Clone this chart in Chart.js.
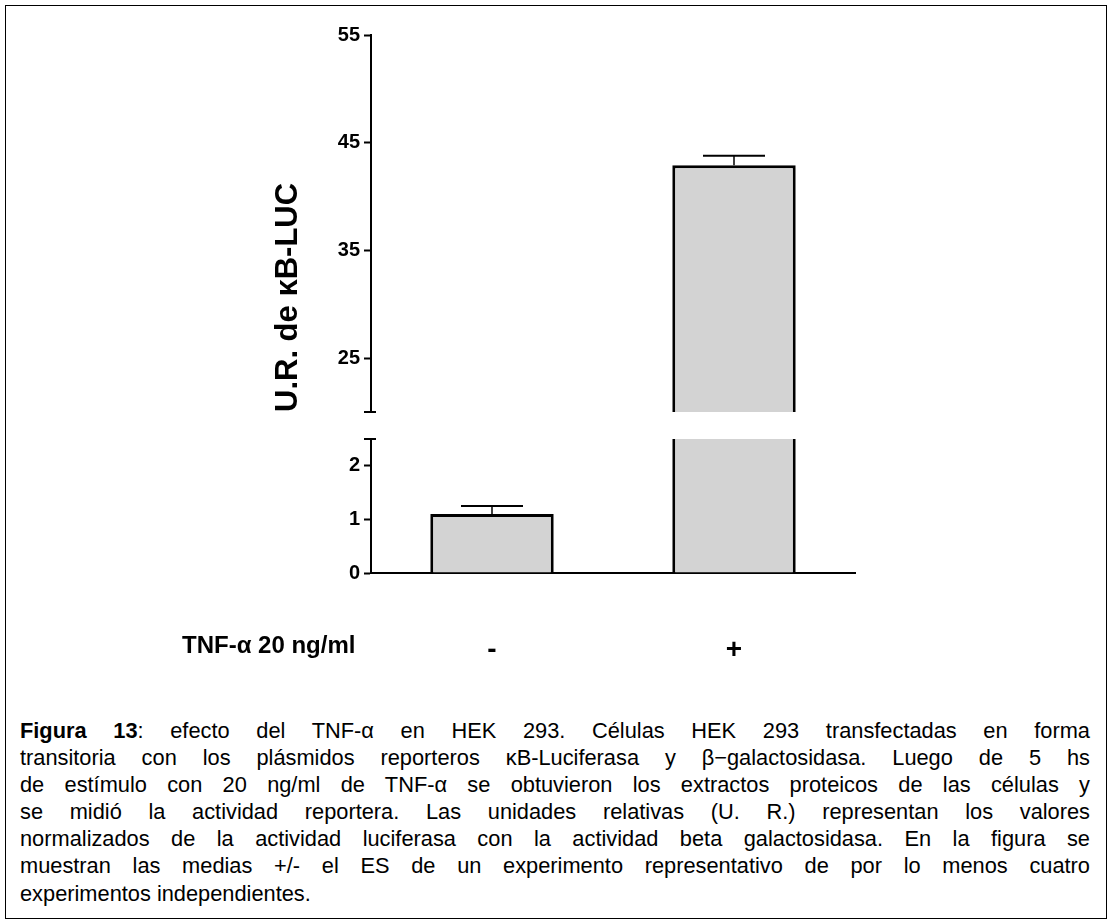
<!DOCTYPE html>
<html>
<head>
<meta charset="utf-8">
<script src="https://cdn.jsdelivr.net/npm/chart.js@4/dist/chart.umd.min.js"></script>
<style>
  body { margin: 0; background: #fff; font-family: "Liberation Sans", Arial, sans-serif; }
  #frame { position: absolute; left: 5px; top: 5px; width: 1100px; height: 912px; border: 1px solid #000; }
  #chartBox { position: absolute; left: 0; top: 0; width: 1100px; height: 680px; }
  #tnf { position: absolute; left: 176px; top: 625px; font-size: 24px; line-height: 28px; font-weight: bold; }
  #caption { position: absolute; left: 14px; top: 711px; width: 1070px; font-size: 21.8px; line-height: 27.1px; color: #000; }
  #caption div { text-align: justify; text-align-last: justify; white-space: nowrap; }
  #caption div.last { text-align-last: left; }
</style>
</head>
<body>
<div id="frame">
  <div id="chartBox"><canvas id="chart"></canvas></div>
  <div id="tnf">TNF-α 20 ng/ml</div>
  <div id="caption">
    <div><b>Figura 13</b>: efecto del TNF-α en HEK 293. Células HEK 293 transfectadas en forma</div>
    <div>transitoria con los plásmidos reporteros κB-Luciferasa y β−galactosidasa. Luego de 5 hs</div>
    <div>de estímulo con 20 ng/ml de TNF-α se obtuvieron los extractos proteicos de las células y</div>
    <div>se midió la actividad reportera. Las unidades relativas (U. R.) representan los valores</div>
    <div>normalizados de la actividad luciferasa con la actividad beta galactosidasa. En la figura se</div>
    <div>muestran las medias +/- el ES de un experimento representativo de por lo menos cuatro</div>
    <div class="last">experimentos independientes.</div>
  </div>
</div>
<script>
// data
const groups = ['-', '+'];
const means = [1.1, 42.9];
const sems = [0.15, 0.9];

// broken y axis: two segments
const lowRange = [0, 2.5];
const highRange = [20, 55];
const lowTicks = [0, 1, 2];
const highTicks = [25, 35, 45, 55];

const lowData = means.map(v => Math.min(v, lowRange[1]));
const highData = means.map(v => v > highRange[0] ? [highRange[0], v] : null);

const FONT = '"Liberation Sans", Arial, sans-serif';
const AXIS_W = 120;

const yAxisCommon = {
    type: 'linear',
    stack: 'y',
    afterFit: s => { s.width = AXIS_W; },
    grid: { display: true, drawOnChartArea: false, drawTicks: true, tickLength: 7, tickWidth: 2, tickColor: '#000' },
    border: { display: true, color: '#000', width: 2 },
    ticks: { color: '#000', padding: 4, font: { family: FONT, size: 20, weight: 'bold' } }
};

// error bars drawn from the scales
const errorBars = {
    id: 'errorBars',
    afterDatasetsDraw(chart) {
        const ctx = chart.ctx;
        const xs = chart.scales.x;
        ctx.save();
        ctx.strokeStyle = '#000';
        means.forEach((m, i) => {
            const ys = m > highRange[0] ? chart.scales.yHigh : chart.scales.yLow;
            const x = xs.getPixelForValue(i);
            const y0 = ys.getPixelForValue(m);
            const y1 = ys.getPixelForValue(m + sems[i]);
            ctx.lineWidth = 1.5;
            ctx.beginPath();
            ctx.moveTo(x, y0);
            ctx.lineTo(x, y1);
            ctx.stroke();
            ctx.lineWidth = 2;
            ctx.beginPath();
            ctx.moveTo(x - 31, y1);
            ctx.lineTo(x + 31, y1);
            ctx.stroke();
        });
        ctx.restore();
    }
};

// little caps at the axis break
const axisBreak = {
    id: 'axisBreak',
    afterDraw(chart) {
        const ctx = chart.ctx;
        const x = chart.chartArea.left - 1;
        const yA = chart.scales.yHigh.getPixelForValue(highRange[0]);
        const yB = chart.scales.yLow.getPixelForValue(lowRange[1]);
        ctx.save();
        ctx.strokeStyle = '#000';
        ctx.lineWidth = 2;
        ctx.beginPath();
        ctx.moveTo(x - 6, yA); ctx.lineTo(x + 6, yA);
        ctx.moveTo(x - 6, yB); ctx.lineTo(x + 6, yB);
        ctx.stroke();
        ctx.restore();
    }
};

new Chart(document.getElementById('chart'), {
    type: 'bar',
    data: {
        labels: groups,
        datasets: [
            {
                data: lowData,
                yAxisID: 'yLow',
                grouped: false,
                backgroundColor: '#d3d3d3',
                borderColor: '#000',
                borderSkipped: false,
                borderWidth: c => ({ left: 3, right: 3, bottom: 0, top: means[c.dataIndex] > lowRange[1] ? 0 : 3 }),
                barPercentage: 0.51,
                categoryPercentage: 1
            },
            {
                data: highData,
                yAxisID: 'yHigh',
                grouped: false,
                backgroundColor: '#d3d3d3',
                borderColor: '#000',
                borderSkipped: false,
                borderWidth: { left: 3, right: 3, bottom: 0, top: 3 },
                barPercentage: 0.51,
                categoryPercentage: 1
            }
        ]
    },
    options: {
        responsive: true,
        maintainAspectRatio: false,
        animation: false,
        layout: { padding: { left: 245, right: 251, top: 29, bottom: 26 } },
        plugins: { legend: { display: false }, tooltip: { enabled: false } },
        scales: {
            x: {
                type: 'category',
                afterFit: s => { s.height = 87; },
                grid: { display: false },
                border: { display: true, color: '#000', width: 2 },
                ticks: { color: '#000', padding: 52, font: { family: FONT, size: 28, weight: 'bold' } }
            },
            // stacked axes are laid out bottom-up, so the lower segment comes first
            yLow: {
                ...yAxisCommon,
                stackWeight: 134,
                min: lowRange[0],
                max: lowRange[1],
                afterBuildTicks: s => { s.ticks = lowTicks.map(v => ({ value: v })); }
            },
            yGap: {
                type: 'linear',
                stack: 'y',
                stackWeight: 27,
                min: 0,
                max: 1,
                afterFit: s => { s.width = AXIS_W; },
                grid: { display: false },
                border: { display: false },
                ticks: { display: false }
            },
            yHigh: {
                ...yAxisCommon,
                stackWeight: 377,
                min: highRange[0],
                max: highRange[1],
                afterBuildTicks: s => { s.ticks = highTicks.map(v => ({ value: v })); },
                title: {
                    display: true,
                    text: 'U.R. de κB-LUC',
                    align: 'start',
                    color: '#000',
                    padding: { top: 19, bottom: 0 },
                    font: { family: FONT, size: 31, weight: 'bold' }
                }
            }
        }
    },
    plugins: [errorBars, axisBreak]
});
</script>
</body>
</html>
